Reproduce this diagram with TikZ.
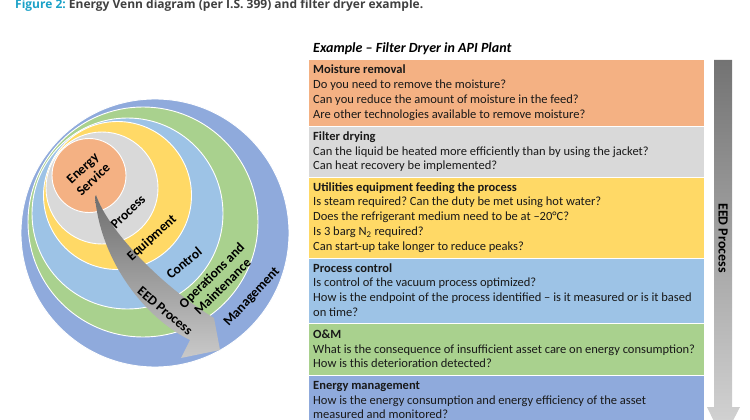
\documentclass[tikz,border=0pt]{standalone}
\usepackage{fontspec}
\setmainfont{Carlito}
\newfontfamily\capfont{Open Sans}
\frenchspacing
\definecolor{cOrange}{HTML}{F4B183}
\definecolor{cGray}{HTML}{D9D9D9}
\definecolor{cYellow}{HTML}{FFD966}
\definecolor{cLBlue}{HTML}{9DC3E6}
\definecolor{cGreen}{HTML}{A9D18E}
\definecolor{cBlue}{HTML}{8FAADC}
\definecolor{cTitle}{HTML}{1BA1C7}
\definecolor{cDark}{HTML}{404040}
\definecolor{arrDark}{HTML}{6E6E6E}
\definecolor{arrLight}{HTML}{C9C9C9}
\definecolor{vDark}{HTML}{737373}
\definecolor{vLight}{HTML}{D6D6D6}
\begin{document}
\begin{tikzpicture}[x=1pt,y=-1pt,
  ring/.style={circle,draw=white,line width=0.9pt,inner sep=0pt},
  clabel/.style={font=\bfseries\fontsize{13.5}{15.5}\selectfont,align=center,inner sep=0pt,text=black},
  qbox/.style={rectangle,draw=white,line width=1pt,inner sep=0pt,anchor=north west,minimum width=396pt},
  qline/.style={anchor=base west,inner sep=0pt,font=\fontsize{12.5}{15}\selectfont,text=black!90},
  qhead/.style={qline,font=\bfseries\fontsize{12.5}{15}\selectfont}]
\useasboundingbox (0,0) rectangle (750,420);
\clip (0,0) rectangle (750,420);
% caption
\node[anchor=base west,inner sep=0pt,font=\capfont\bfseries\fontsize{12}{13}\selectfont] (fig) at (15,8.5)
  {\textcolor{cTitle}{Figure 2:} \textcolor{cDark}{Energy Venn diagram (per I.S. 399) and filter dryer example.}};
% venn circles
\node[ring,fill=cBlue,minimum size=268pt] (mgmt) at (155,233) {};
\node[ring,fill=cGreen,minimum size=230pt] (om) at (143,222) {};
\node[ring,fill=cLBlue,minimum size=191pt] (ctrl) at (127.5,213.5) {};
\node[ring,fill=cYellow,minimum size=148pt] (equip) at (117.5,195.5) {};
\node[ring,fill=cGray,minimum size=112pt] (proc) at (102,188) {};
\node[ring,fill=cOrange,minimum size=74pt] (es) at (89,175.5) {};
% curved EED arrow
\shade[top color=arrDark,bottom color=arrLight]
  (96,195) .. controls (108,230) and (160,285) .. (214,318)
  -- (220,350) -- (181,358) -- (190,340)
  .. controls (145,318) and (101,262) .. (95,197) -- cycle;
% circle labels
\node[clabel,rotate=43] (esl) at (88,174) {Energy\\Service};
\node[clabel,rotate=44] (procl) at (128,212) {Process};
\node[clabel,rotate=42] (equipl) at (152,238) {Equipment};
\node[clabel,rotate=40] (ctrll) at (184,263) {Control};
\node[clabel,rotate=45] (oml) at (217,281) {Operations and\\Maintenance};
\node[clabel,rotate=47] (mgmtl) at (252,297) {Management};
\node[clabel,rotate=-40] (eedl) at (165,311) {EED Process};
% example heading
\node[anchor=base west,inner sep=0pt,font=\bfseries\itshape\fontsize{14}{16}\selectfont] (ex) at (313,53)
  {Example – Filter Dryer in API Plant};
% boxes
\node[qbox,fill=cOrange,minimum height=66.5pt] (b1) at (308,59) {};
\node[qbox,fill=cGray,minimum height=51pt] (b2) at (308,125.5) {};
\node[qbox,fill=cYellow,minimum height=81pt] (b3) at (308,176.5) {};
\node[qbox,fill=cLBlue,minimum height=65.5pt] (b4) at (308,257.5) {};
\node[qbox,fill=cGreen,minimum height=51.5pt] (b5) at (308,323) {};
\node[qbox,fill=cBlue,minimum height=70pt] (b6) at (308,374.5) {};
% box 1
\node[qhead] (t11) at (313,74) {Moisture removal};
\node[qline] (t12) at (313,88.8) {Do you need to remove the moisture?};
\node[qline] (t13) at (313,103.6) {Can you reduce the amount of moisture in the feed?};
\node[qline] (t14) at (313,118.4) {Are other technologies available to remove moisture?};
% box 2
\node[qhead] (t21) at (313,140.3) {Filter drying};
\node[qline] (t22) at (313,155.1) {Can the liquid be heated more efficiently than by using the jacket?};
\node[qline] (t23) at (313,169.9) {Can heat recovery be implemented?};
% box 3
\node[qhead] (t31) at (313,191) {Utilities equipment feeding the process};
\node[qline] (t32) at (313,205.8) {Is steam required? Can the duty be met using hot water?};
\node[qline] (t33) at (313,220.6) {Does the refrigerant medium need to be at –20°C?};
\node[qline] (t34) at (313,235.4) {Is 3 barg N\textsubscript{2} required?};
\node[qline] (t35) at (313,250.2) {Can start-up take longer to reduce peaks?};
% box 4
\node[qhead] (t41) at (313,272) {Process control};
\node[qline] (t42) at (313,286.8) {Is control of the vacuum process optimized?};
\node[qline] (t43) at (313,301.6) {How is the endpoint of the process identified – is it measured or is it based};
\node[qline] (t44) at (313,316.4) {on time?};
% box 5
\node[qhead] (t51) at (313,338.3) {O\&M};
\node[qline] (t52) at (313,353.1) {What is the consequence of insufficient asset care on energy consumption?};
\node[qline] (t53) at (313,367.9) {How is this deterioration detected?};
% box 6
\node[qhead] (t61) at (313,389.3) {Energy management};
\node[qline] (t62) at (313,404.1) {How is the energy consumption and energy efficiency of the asset};
\node[qline] (t63) at (313,418.9) {measured and monitored?};
% vertical process arrow
\shade[top color=vDark,bottom color=vLight]
  (714,60) -- (732,60) -- (732,407) -- (740,407) -- (723,440) -- (707,407) -- (714,407) -- cycle;
\node[font=\bfseries\fontsize{14}{16}\selectfont,rotate=-90,inner sep=0pt] (eedv) at (723,238) {EED Process};
\end{tikzpicture}
\end{document}
